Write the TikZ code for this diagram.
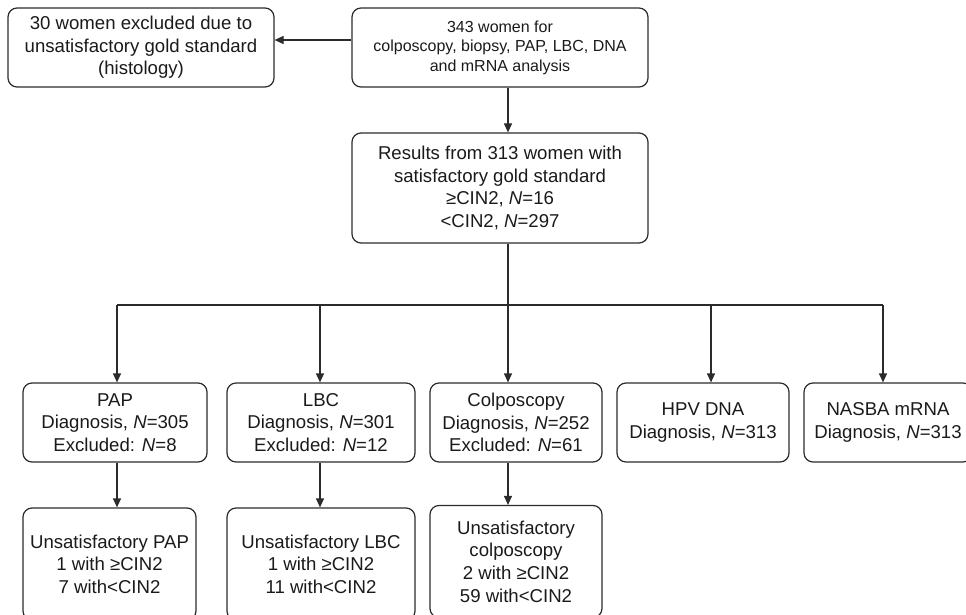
\documentclass[tikz,border=0pt]{standalone}
\usepackage{fontspec}
\setmainfont{Liberation Sans}
\usetikzlibrary{arrows.meta,calc}
\definecolor{linec}{HTML}{2B2B2B}
\definecolor{txt}{HTML}{1A1A1A}
\begin{document}
\begin{tikzpicture}[x=1pt,y=-1pt,
  box/.style={draw=linec, line width=1.2pt, rounded corners=9pt, align=center, inner sep=0pt, text=txt, font=\fontsize{18.6}{22.6}\selectfont},
  smallbox/.style={box, font=\fontsize{16}{19.5}\selectfont},
  arr/.style={draw=linec, line width=1.2pt, -{Triangle[length=9pt,width=8pt]}},
  ln/.style={draw=linec, line width=1.2pt}]
\clip (0,0) rectangle (966,615);

% top row
\node[box, minimum width=266pt, minimum height=79pt] (A) at (141,47.5)
  {30 women excluded due to\\unsatisfactory gold standard\\(histology)};
\node[smallbox, minimum width=296pt, minimum height=79pt] (B) at (500,47.5)
  {343 women for\\colposcopy, biopsy, PAP, LBC, DNA\\and mRNA analysis};
\node[box, minimum width=296pt, minimum height=110pt] (C) at (500,188)
  {Results from 313 women with\\satisfactory gold standard\\≥CIN2, \textit{N}=16\\<CIN2, \textit{N}=297};

% second row
\node[box, minimum width=184pt, minimum height=79pt] (PAP) at (115,422.5)
  {PAP\\Diagnosis, \textit{N}=305\\Excluded: \textit{N}=8};
\node[box, minimum width=188pt, minimum height=79pt] (LBC) at (321,422.5)
  {LBC\\Diagnosis, \textit{N}=301\\Excluded: \textit{N}=12};
\node[box, minimum width=172pt, minimum height=79pt] (COL) at (516,422.5)
  {Colposcopy\\Diagnosis, \textit{N}=252\\Excluded: \textit{N}=61};
\node[box, minimum width=172pt, minimum height=79pt] (HPV) at (703,422.5)
  {HPV DNA\\Diagnosis, \textit{N}=313};
\node[box, minimum width=168pt, minimum height=79pt] (NAS) at (888,422.5)
  {NASBA mRNA\\Diagnosis, \textit{N}=313};

% third row
\node[box, minimum width=173pt, minimum height=112pt] (UPAP) at (109.5,564)
  {Unsatisfactory PAP\\1 with ≥CIN2\\7 with<CIN2};
\node[box, minimum width=188pt, minimum height=112pt] (ULBC) at (321,564)
  {Unsatisfactory LBC\\1 with ≥CIN2\\11 with<CIN2};
\node[box, minimum width=172pt, minimum height=112pt] (UCOL) at (516,561.5)
  {Unsatisfactory\\colposcopy\\2 with ≥CIN2\\59 with<CIN2};

% helper coordinates
\coordinate (ay) at (0,40);
\coordinate (hy) at (0,305);
\coordinate (x1) at (117,0);
\coordinate (x2) at (320,0);
\coordinate (x3) at (508,0);
\coordinate (x4) at (711,0);
\coordinate (x5) at (883,0);

% connectors
\draw[arr] (B.west |- ay) -- (A.east |- ay);
\draw[arr] (B.south -| x3) -- (C.north -| x3);
\draw[ln] (C.south -| x3) -- (x3 |- hy);
\draw[ln] (x1 |- hy) -- (x5 |- hy);
\draw[arr] (x1 |- hy) -- (PAP.north -| x1);
\draw[arr] (x2 |- hy) -- (LBC.north -| x2);
\draw[arr] (x3 |- hy) -- (COL.north -| x3);
\draw[arr] (x4 |- hy) -- (HPV.north -| x4);
\draw[arr] (x5 |- hy) -- (NAS.north -| x5);
\draw[arr] (PAP.south -| x1) -- (UPAP.north -| x1);
\draw[arr] (LBC.south -| x2) -- (ULBC.north -| x2);
\draw[arr] (COL.south -| x3) -- (UCOL.north -| x3);
\end{tikzpicture}
\end{document}
